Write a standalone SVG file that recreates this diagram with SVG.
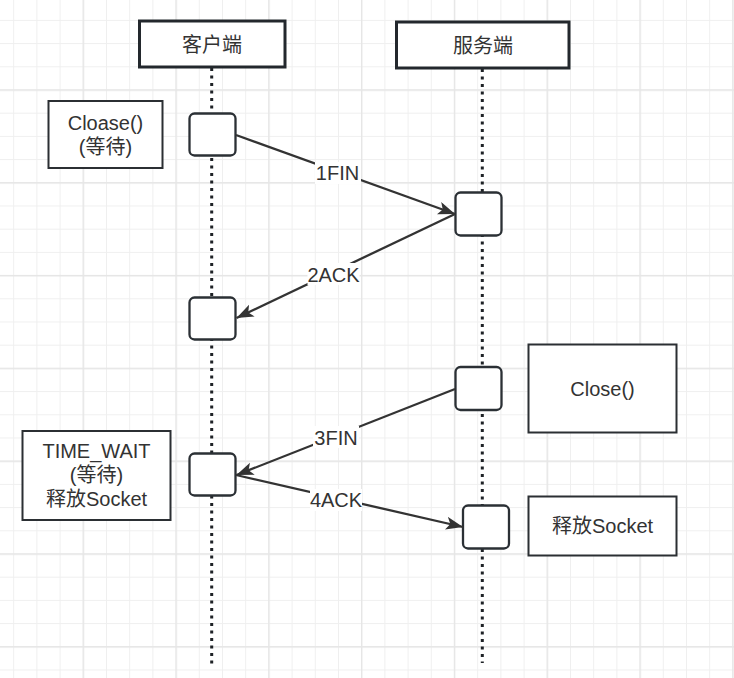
<svg xmlns="http://www.w3.org/2000/svg" width="734" height="678" viewBox="0 0 734 678">
  <defs>
    <pattern id="minor" patternUnits="userSpaceOnUse" x="13.2" y="19.9" width="23.2" height="23.2">
      <path d="M0.5,0 V23.2 M0,0.5 H23.2" stroke="#efefef" stroke-width="1" fill="none"/>
    </pattern>
    <pattern id="major" patternUnits="userSpaceOnUse" x="82.6" y="89.3" width="92.8" height="92.8">
      <path d="M0.7,0 V92.8 M0,0.7 H92.8" stroke="#e6e6e6" stroke-width="1.4" fill="none"/>
    </pattern>
    <marker id="arrow" markerUnits="userSpaceOnUse" markerWidth="18" markerHeight="14" refX="17" refY="6.5" orient="auto">
      <path d="M0,0 L17,6.5 L0,13 L4,6.5 Z" fill="#333333"/>
    </marker>
    <style>
      .txt { font-family: "Liberation Sans", "Noto Sans CJK SC", sans-serif; font-size: 20px; fill: #333333; text-anchor: middle; }
      .head { fill: #ffffff; stroke: #23282d; stroke-width: 3; }
      .note { fill: #ffffff; stroke: #2b2f33; stroke-width: 2; }
      .act { fill: #ffffff; stroke: #2b3035; stroke-width: 2.3; }
      .life { stroke: #1e2226; stroke-width: 3; stroke-dasharray: 3 4.5; fill: none; }
      .msg { stroke: #333333; stroke-width: 2.3; fill: none; marker-end: url(#arrow); }
      .lblbg { fill: #ffffff; }
    </style>
  </defs>

  <rect width="734" height="678" fill="#ffffff"/>
  <rect width="734" height="678" fill="url(#minor)"/>
  <rect width="734" height="678" fill="url(#major)"/>

  <g id="lifelines">
    <line class="life" x1="211.7" y1="68" x2="211.7" y2="668"/>
    <line class="life" x1="482.3" y1="69" x2="482.3" y2="663"/>
  </g>

  <g id="client-header">
    <rect class="head" x="139.5" y="21" width="145.5" height="46"/>
    <text class="txt" x="212" y="52">客户端</text>
  </g>
  <g id="server-header">
    <rect class="head" x="396.5" y="22" width="172.5" height="46"/>
    <text class="txt" x="483" y="53">服务端</text>
  </g>

  <g id="note-cloase">
    <rect class="note" x="48.5" y="101" width="114" height="67"/>
    <text class="txt" x="105.5" y="130">Cloase()</text>
    <text class="txt" x="105.5" y="154">(等待)</text>
  </g>
  <g id="note-timewait">
    <rect class="note" x="22.5" y="431" width="148" height="89"/>
    <text class="txt" x="96.5" y="458">TIME_WAIT</text>
    <text class="txt" x="96.5" y="482">(等待)</text>
    <text class="txt" x="96.5" y="506">释放Socket</text>
  </g>
  <g id="note-close">
    <rect class="note" x="528.5" y="344.5" width="148" height="88"/>
    <text class="txt" x="602.5" y="396">Close()</text>
  </g>
  <g id="note-release">
    <rect class="note" x="528.5" y="496.5" width="148" height="59"/>
    <text class="txt" x="602.5" y="533">释放Socket</text>
  </g>

  <g id="act-c1"><rect class="act" x="189.5" y="113.5" width="46" height="42" rx="5"/></g>
  <g id="act-s1"><rect class="act" x="455.5" y="192.5" width="46" height="43" rx="5"/></g>
  <g id="act-c2"><rect class="act" x="189.5" y="297.5" width="46" height="42" rx="5"/></g>
  <g id="act-s2"><rect class="act" x="455.5" y="367" width="46" height="43" rx="5"/></g>
  <g id="act-c3"><rect class="act" x="189.5" y="453.5" width="46" height="42" rx="5"/></g>
  <g id="act-s3"><rect class="act" x="463" y="505.5" width="46" height="43" rx="5"/></g>

  <g id="connectors">
    <line class="msg" x1="236" y1="135" x2="455" y2="214"/>
    <line class="msg" x1="455" y1="214" x2="236.5" y2="318"/>
    <line class="msg" x1="455" y1="389" x2="236.5" y2="475"/>
    <line class="msg" x1="236" y1="475" x2="463" y2="527"/>
    <rect class="lblbg" x="315" y="162" width="46" height="22"/>
    <text class="txt" x="337.5" y="180">1FIN</text>
    <rect class="lblbg" x="307.5" y="263" width="52" height="22"/>
    <text class="txt" x="333.5" y="281.5">2ACK</text>
    <rect class="lblbg" x="313" y="426" width="46" height="22"/>
    <text class="txt" x="336" y="445">3FIN</text>
    <rect class="lblbg" x="310" y="489" width="52" height="22"/>
    <text class="txt" x="336" y="507">4ACK</text>
  </g>
</svg>
